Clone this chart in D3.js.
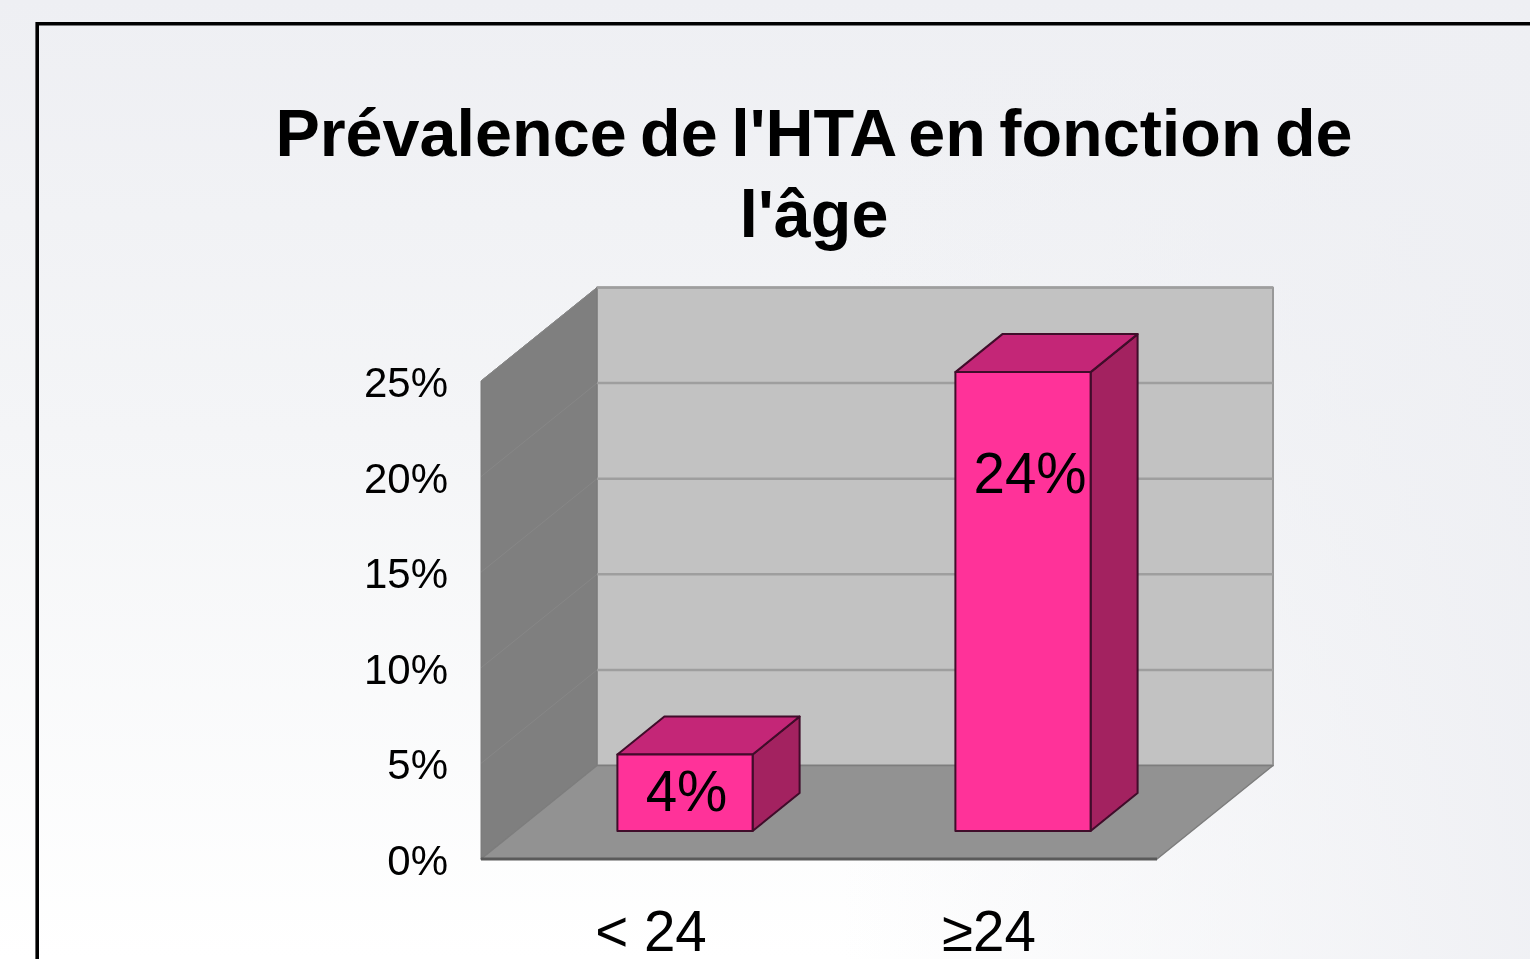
<!DOCTYPE html>
<html>
<head>
<meta charset="utf-8">
<style>
  html, body { margin: 0; padding: 0; overflow: hidden; background: #fff; }
  svg { display: block; }
  text { font-family: "Liberation Sans", Arial, sans-serif; fill: #000; }
</style>
<script src="https://cdn.jsdelivr.net/npm/d3@7"></script>
</head>
<body>
<svg></svg>
<script>
let categories = ["< 24", "≥24"];
let values = [4, 24];
let valueLabels = ["4%", "24%"];
let yTicks = [0, 5, 10, 15, 20, 25];
let titleLines = ["Prévalence de l'HTA en fonction de", "l'âge"];

let width = 1530;
let height = 959;

// front plane of the 3d box
let left = 481;
let right = 1157;
let bottom = 859;
let top25 = 381;

// depth offsets
let wallDx = 116, wallDy = -93.5;
let barDx = 47, barDy = -38;
let barOffsetDx = 35, barOffsetDy = -28;

let svg = d3.select("svg").attr("width", width).attr("height", height);

let xScale = d3.scaleBand().domain(categories).range([left, right]).paddingInner(0.6).paddingOuter(0.3);
let yScale = d3.scaleLinear().domain([0, 25]).range([bottom, top25]);

let defs = svg.append("defs");
let bg = defs.append("linearGradient").attr("id", "bg").attr("x1", 0).attr("y1", 0).attr("x2", 0).attr("y2", 1);
bg.append("stop").attr("offset", "0%").attr("stop-color", "#eeeff3");
bg.append("stop").attr("offset", "45%").attr("stop-color", "#f4f5f7");
bg.append("stop").attr("offset", "100%").attr("stop-color", "#ffffff");
let bgSide = defs.append("linearGradient").attr("id", "bgSide").attr("x1", 0).attr("y1", 0).attr("x2", 1).attr("y2", 0);
bgSide.append("stop").attr("offset", "55%").attr("stop-color", "#eeeff3").attr("stop-opacity", 0);
bgSide.append("stop").attr("offset", "100%").attr("stop-color", "#eeeff3").attr("stop-opacity", 0.9);

// the source picture is a soft upscaled image
let soft = defs.append("filter").attr("id", "soft").attr("x", 0).attr("y", 0).attr("width", 1).attr("height", 1)
  .attr("filterUnits", "userSpaceOnUse")
  .attr("x", 0).attr("y", 0).attr("width", width).attr("height", height);
soft.append("feGaussianBlur").attr("stdDeviation", 0.55);

svg.append("rect").attr("width", width).attr("height", height).attr("fill", "url(#bg)");
svg.append("rect").attr("width", width).attr("height", height).attr("fill", "url(#bgSide)");

let chart = svg.append("g").attr("filter", "url(#soft)");

// frame, runs off the page on the right and bottom
chart.append("path")
  .attr("d", "M37.2," + (height + 5) + "V23.7H" + (width + 5))
  .attr("fill", "none")
  .attr("stroke", "#000")
  .attr("stroke-width", 3.6);

let poly = (pts, fill, stroke, sw) => {
  return chart.append("polygon")
    .attr("points", pts.map((p) => p.join(",")).join(" "))
    .attr("fill", fill)
    .attr("stroke", stroke)
    .attr("stroke-width", sw)
    .attr("stroke-linejoin", "round");
};

let yTop = yScale(25);
let yBase = yScale(0);

// back wall
poly([[left + wallDx, yTop + wallDy], [right + wallDx, yTop + wallDy], [right + wallDx, yBase + wallDy], [left + wallDx, yBase + wallDy]], "#c2c2c2", "#989898", 2);
// side wall
poly([[left, yTop], [left + wallDx, yTop + wallDy], [left + wallDx, yBase + wallDy], [left, yBase]], "#7f7f7f", "#7a7a7a", 1);
// floor
poly([[left, yBase], [left + wallDx, yBase + wallDy], [right + wallDx, yBase + wallDy], [right, yBase]], "#929292", "#7d7d7d", 1.5);
// thick front edge of the floor
chart.append("line")
  .attr("x1", left).attr("x2", right)
  .attr("y1", yBase).attr("y2", yBase)
  .attr("stroke", "#5a5a5a").attr("stroke-width", 3);

// gridlines on both walls
let grid = chart.append("g");
yTicks.filter((t) => t > 0).forEach((t) => {
  let y = yScale(t);
  grid.append("line")
    .attr("x1", left + wallDx).attr("x2", right + wallDx)
    .attr("y1", y + wallDy).attr("y2", y + wallDy)
    .attr("stroke", "#9e9e9e").attr("stroke-width", 2.5);
  grid.append("line")
    .attr("x1", left).attr("x2", left + wallDx)
    .attr("y1", y).attr("y2", y + wallDy)
    .attr("stroke", "#878787").attr("stroke-width", 1);
});

// bars
let outline = "#3f0a29";
values.forEach((v, i) => {
  let x0 = xScale(categories[i]) + barOffsetDx;
  let x1 = x0 + xScale.bandwidth();
  let yB = yScale(0) + barOffsetDy;
  let yT = yScale(v) + barOffsetDy;
  poly([[x1, yT], [x1 + barDx, yT + barDy], [x1 + barDx, yB + barDy], [x1, yB]], "#a32060", outline, 2);
  poly([[x0, yT], [x0 + barDx, yT + barDy], [x1 + barDx, yT + barDy], [x1, yT]], "#c42777", outline, 2);
  poly([[x0, yT], [x1, yT], [x1, yB], [x0, yB]], "#ff3399", outline, 2);
});

// value labels
let labelY = [yScale(values[0]) + barOffsetDy + 56, yScale(values[1]) + barOffsetDy + 121];
values.forEach((v, i) => {
  chart.append("text")
    .attr("x", xScale(categories[i]) + barOffsetDx + xScale.bandwidth() / 2 + (i === 0 ? 1.5 : 7))
    .attr("y", labelY[i])
    .attr("text-anchor", "middle")
    .attr("font-size", 56.5)
    .text(valueLabels[i]);
});

// axes
let yAxis = d3.axisLeft(yScale).tickValues(yTicks).tickSize(0).tickPadding(33).tickFormat((d) => d + "%");
chart.append("g")
  .attr("transform", "translate(" + left + ",2)")
  .call(yAxis)
  .call((g) => g.select(".domain").remove())
  .selectAll("text")
  .attr("font-size", 42);

let xAxis = d3.axisBottom(xScale).tickSize(0).tickPadding(52);
chart.append("g")
  .attr("transform", "translate(1," + bottom + ")")
  .call(xAxis)
  .call((g) => g.select(".domain").remove())
  .selectAll("text")
  .attr("font-size", 56.5);

// title
chart.append("g").selectAll("text")
  .data(titleLines)
  .enter()
  .append("text")
  .attr("x", 814)
  .attr("y", (d, i) => 156 + i * 81)
  .attr("text-anchor", "middle")
  .attr("font-size", 66.5)
  .attr("font-weight", "bold")
  .attr("word-spacing", -5)
  .text((d) => d);
</script>
</body>
</html>
